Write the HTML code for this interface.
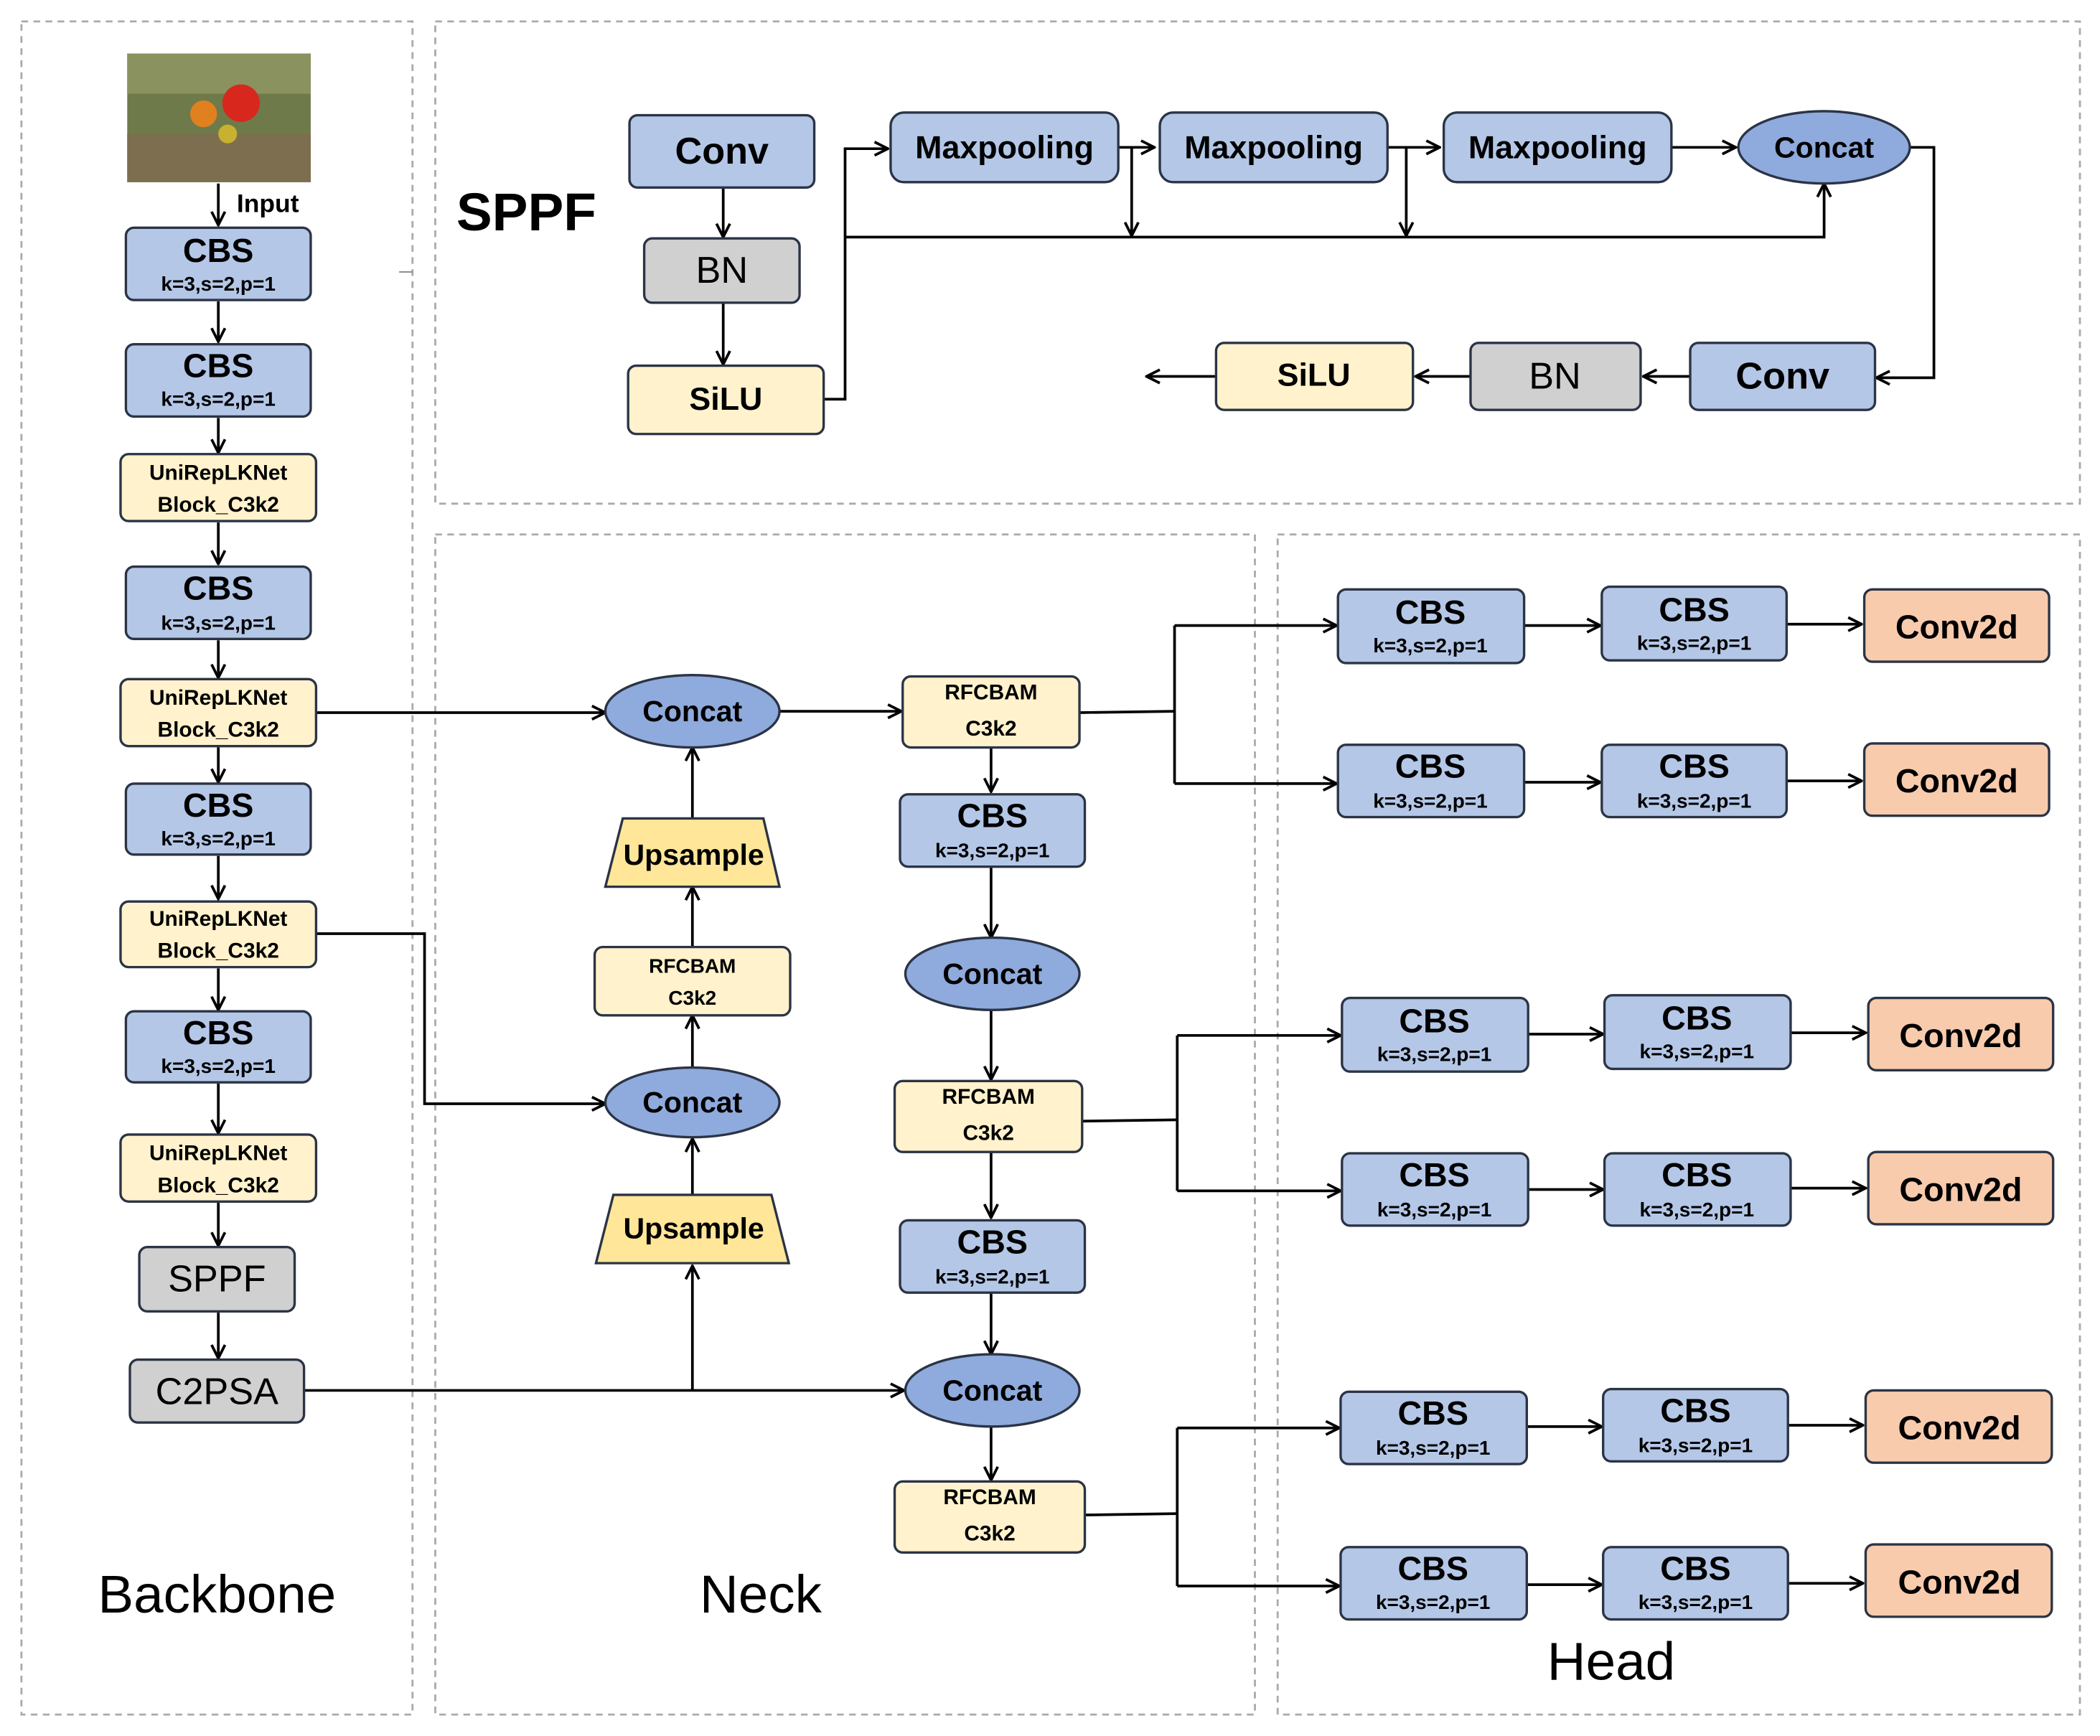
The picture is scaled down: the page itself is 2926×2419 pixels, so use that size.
<!DOCTYPE html>
<html><head><meta charset="utf-8"><style>
html,body{margin:0;padding:0;background:#fff;}
svg{display:block;}
text{font-family:"Liberation Sans",sans-serif;text-anchor:middle;dominant-baseline:central;}
.b{font-weight:bold;}
</style></head><body>
<svg width="2926" height="2419" viewBox="0 0 1568 1296" preserveAspectRatio="none" xmlns="http://www.w3.org/2000/svg">
<defs>
<marker id="a" viewBox="0 0 12 12" refX="11" refY="6" markerWidth="12" markerHeight="12" markerUnits="userSpaceOnUse" orient="auto">
<polyline points="1,1 11,6 1,11" fill="none" stroke="#000" stroke-width="2"/>
</marker>
</defs>
<rect width="1568" height="1296" fill="#fff"/>
<g fill="none" stroke="#aaa" stroke-width="1.5" stroke-dasharray="5,4">
<rect x="16" y="16" width="292" height="1264"/>
<rect x="325" y="16" width="1228" height="360"/>
<rect x="325" y="399" width="612" height="881"/>
<rect x="954" y="399" width="599" height="881"/>
</g>
<line x1="298" y1="203" x2="308" y2="203" stroke="#888" stroke-width="1"/>

<!-- image -->
<rect x="95" y="40" width="137" height="96" fill="#6f7a4a"/>
<rect x="95" y="40" width="137" height="30" fill="#8a9260"/>
<rect x="95" y="100" width="137" height="36" fill="#7d6e50"/>
<circle cx="180" cy="77" r="14" fill="#d8281e"/>
<circle cx="152" cy="85" r="10" fill="#e0801e"/>
<circle cx="170" cy="100" r="7" fill="#c8b030"/>

<g stroke="#000" stroke-width="2" fill="none" marker-end="url(#a)">
<line x1="163" y1="137" x2="163" y2="168"/>
<line x1="163" y1="225" x2="163" y2="255"/>
<line x1="163" y1="312" x2="163" y2="338"/>
<line x1="163" y1="390" x2="163" y2="421"/>
<line x1="163" y1="478" x2="163" y2="506"/>
<line x1="163" y1="558" x2="163" y2="584"/>
<line x1="163" y1="639" x2="163" y2="671"/>
<line x1="163" y1="723" x2="163" y2="754"/>
<line x1="163" y1="809" x2="163" y2="846"/>
<line x1="163" y1="898" x2="163" y2="930"/>
<line x1="163" y1="980" x2="163" y2="1014"/>
<!-- neck -->
<line x1="236" y1="532" x2="452" y2="532"/>
<line x1="517" y1="611" x2="517" y2="558"/>
<line x1="517" y1="707" x2="517" y2="662"/>
<line x1="517" y1="797" x2="517" y2="758"/>
<polyline points="236,697 317,697 317,824 452,824"/>
<line x1="517" y1="892" x2="517" y2="850"/>
<line x1="227" y1="1038" x2="675" y2="1038"/>
<line x1="517" y1="1038" x2="517" y2="945"/>
<line x1="582" y1="531" x2="673" y2="531"/>
<line x1="740" y1="558" x2="740" y2="591"/>
<line x1="740" y1="647" x2="740" y2="700"/>
<line x1="740" y1="754" x2="740" y2="806"/>
<line x1="740" y1="860" x2="740" y2="909"/>
<line x1="740" y1="965" x2="740" y2="1011"/>
<line x1="740" y1="1065" x2="740" y2="1105"/>
<!-- head -->
<polyline points="877,467 998,467"/>
<polyline points="877,585 998,585"/>
<line x1="1138" y1="467" x2="1195" y2="467"/>
<line x1="1334" y1="466" x2="1390" y2="466"/>
<line x1="1138" y1="584" x2="1195" y2="584"/>
<line x1="1334" y1="583" x2="1390" y2="583"/>
<polyline points="879,773 1001,773"/>
<polyline points="879,889 1001,889"/>
<line x1="1141" y1="772" x2="1197" y2="772"/>
<line x1="1337" y1="771" x2="1393" y2="771"/>
<line x1="1141" y1="888" x2="1197" y2="888"/>
<line x1="1337" y1="887" x2="1393" y2="887"/>
<polyline points="879,1066 1000,1066"/>
<polyline points="879,1184 1000,1184"/>
<line x1="1140" y1="1065" x2="1196" y2="1065"/>
<line x1="1335" y1="1064" x2="1391" y2="1064"/>
<line x1="1140" y1="1183" x2="1196" y2="1183"/>
<line x1="1335" y1="1182" x2="1391" y2="1182"/>
<!-- sppf -->
<line x1="540" y1="140" x2="540" y2="177"/>
<line x1="540" y1="226" x2="540" y2="272"/>
<polyline points="615,298 631,298 631,111 663,111"/>
<polyline points="631,177 1362,177 1362,137"/>
<line x1="835" y1="110" x2="862" y2="110"/>
<line x1="845" y1="110" x2="845" y2="176"/>
<line x1="1036" y1="110" x2="1075" y2="110"/>
<line x1="1050" y1="110" x2="1050" y2="176"/>
<line x1="1248" y1="110" x2="1296" y2="110"/>
<polyline points="1426,110 1444,110 1444,282 1401,282"/>
<line x1="1262" y1="281" x2="1227" y2="281"/>
<line x1="1098" y1="281" x2="1057" y2="281"/>
<line x1="908" y1="281" x2="856" y2="281"/>
</g>
<g stroke="#000" stroke-width="2" fill="none">
<line x1="806" y1="532" x2="877" y2="531"/>
<line x1="877" y1="467" x2="877" y2="585"/>
<line x1="808" y1="837" x2="879" y2="836"/>
<line x1="879" y1="773" x2="879" y2="889"/>
<line x1="810" y1="1131" x2="879" y2="1130"/>
<line x1="879" y1="1066" x2="879" y2="1184"/>
</g>

<text x="200" y="152" class="b" font-size="19">Input</text>

<g stroke="#2b3445" stroke-width="1.8">
<!-- backbone CBS -->
<g fill="#b4c7e7">
<rect x="94" y="170" width="138" height="54" rx="6"/>
<rect x="94" y="257" width="138" height="54" rx="6"/>
<rect x="94" y="423" width="138" height="54" rx="6"/>
<rect x="94" y="585" width="138" height="53" rx="6"/>
<rect x="94" y="755" width="138" height="53" rx="6"/>
<rect x="672" y="593" width="138" height="54" rx="6"/>
<rect x="672" y="911" width="138" height="54" rx="6"/>
<rect x="999" y="440" width="139" height="55" rx="6"/>
<rect x="1196" y="438" width="138" height="55" rx="6"/>
<rect x="999" y="556" width="139" height="54" rx="6"/>
<rect x="1196" y="556" width="138" height="54" rx="6"/>
<rect x="1002" y="745" width="139" height="55" rx="6"/>
<rect x="1198" y="743" width="139" height="55" rx="6"/>
<rect x="1002" y="861" width="139" height="54" rx="6"/>
<rect x="1198" y="861" width="139" height="54" rx="6"/>
<rect x="1001" y="1039" width="139" height="54" rx="6"/>
<rect x="1197" y="1037" width="138" height="54" rx="6"/>
<rect x="1001" y="1155" width="139" height="54" rx="6"/>
<rect x="1197" y="1155" width="138" height="54" rx="6"/>
<rect x="470" y="86" width="138" height="54" rx="6"/>
<rect x="665" y="84" width="170" height="52" rx="10"/>
<rect x="866" y="84" width="170" height="52" rx="10"/>
<rect x="1078" y="84" width="170" height="52" rx="10"/>
<rect x="1262" y="256" width="138" height="50" rx="6"/>
</g>
<g fill="#fff2cc">
<rect x="90" y="339" width="146" height="50" rx="6"/>
<rect x="90" y="507" width="146" height="50" rx="6"/>
<rect x="90" y="673" width="146" height="49" rx="6"/>
<rect x="90" y="847" width="146" height="50" rx="6"/>
<rect x="444" y="707" width="146" height="51" rx="6"/>
<rect x="674" y="505" width="132" height="53" rx="6"/>
<rect x="668" y="807" width="140" height="53" rx="6"/>
<rect x="668" y="1106" width="142" height="53" rx="6"/>
<rect x="469" y="273" width="146" height="51" rx="6"/>
<rect x="908" y="256" width="147" height="50" rx="6"/>
</g>
<g fill="#d0d0d0">
<rect x="104" y="931" width="116" height="48" rx="6"/>
<rect x="97" y="1015" width="130" height="47" rx="6"/>
<rect x="481" y="178" width="116" height="48" rx="6"/>
<rect x="1098" y="256" width="127" height="50" rx="6"/>
</g>
<g fill="#f8cbad">
<rect x="1392" y="440" width="138" height="54" rx="6"/>
<rect x="1392" y="555" width="138" height="54" rx="6"/>
<rect x="1395" y="745" width="138" height="54" rx="6"/>
<rect x="1395" y="860" width="138" height="54" rx="6"/>
<rect x="1393" y="1038" width="139" height="54" rx="6"/>
<rect x="1393" y="1153" width="139" height="54" rx="6"/>
</g>
<g fill="#8faadc">
<ellipse cx="517" cy="531" rx="65" ry="27"/>
<ellipse cx="517" cy="823" rx="65" ry="26"/>
<ellipse cx="741" cy="727" rx="65" ry="27"/>
<ellipse cx="741" cy="1038" rx="65" ry="27"/>
<ellipse cx="1362" cy="110" rx="64" ry="27"/>
</g>
<g fill="#ffe699">
<polygon points="465,611 570,611 582,662 452,662"/>
<polygon points="458,892 576,892 589,943 445,943"/>
</g>
</g>

<g class="b" fill="#000">
<g font-size="25">
<text x="163" y="187">CBS</text><text x="163" y="273">CBS</text><text x="163" y="439">CBS</text>
<text x="163" y="601">CBS</text><text x="163" y="771">CBS</text>
<text x="741" y="609">CBS</text><text x="741" y="927">CBS</text>
<text x="1068" y="457">CBS</text><text x="1265" y="455">CBS</text>
<text x="1068" y="572">CBS</text><text x="1265" y="572">CBS</text>
<text x="1071" y="762">CBS</text><text x="1267" y="760">CBS</text>
<text x="1071" y="877">CBS</text><text x="1267" y="877">CBS</text>
<text x="1070" y="1055">CBS</text><text x="1266" y="1053">CBS</text>
<text x="1070" y="1171">CBS</text><text x="1266" y="1171">CBS</text>
</g>
<g font-size="15">
<text x="163" y="212">k=3,s=2,p=1</text><text x="163" y="298">k=3,s=2,p=1</text><text x="163" y="465">k=3,s=2,p=1</text>
<text x="163" y="626">k=3,s=2,p=1</text><text x="163" y="796">k=3,s=2,p=1</text>
<text x="741" y="635">k=3,s=2,p=1</text><text x="741" y="953">k=3,s=2,p=1</text>
<text x="1068" y="482">k=3,s=2,p=1</text><text x="1265" y="480">k=3,s=2,p=1</text>
<text x="1068" y="598">k=3,s=2,p=1</text><text x="1265" y="598">k=3,s=2,p=1</text>
<text x="1071" y="787">k=3,s=2,p=1</text><text x="1267" y="785">k=3,s=2,p=1</text>
<text x="1071" y="903">k=3,s=2,p=1</text><text x="1267" y="903">k=3,s=2,p=1</text>
<text x="1070" y="1081">k=3,s=2,p=1</text><text x="1266" y="1079">k=3,s=2,p=1</text>
<text x="1070" y="1196">k=3,s=2,p=1</text><text x="1266" y="1196">k=3,s=2,p=1</text>
</g>
<g font-size="16">
<text x="163" y="353">UniRepLKNet</text><text x="163" y="377">Block_C3k2</text>
<text x="163" y="521">UniRepLKNet</text><text x="163" y="545">Block_C3k2</text>
<text x="163" y="686">UniRepLKNet</text><text x="163" y="710">Block_C3k2</text>
<text x="163" y="861">UniRepLKNet</text><text x="163" y="885">Block_C3k2</text>
<text x="740" y="517">RFCBAM</text><text x="740" y="544">C3k2</text>
<text x="738" y="819">RFCBAM</text><text x="738" y="846">C3k2</text>
<text x="739" y="1118">RFCBAM</text><text x="739" y="1145">C3k2</text>
</g>
<g font-size="15">
<text x="517" y="721">RFCBAM</text><text x="517" y="745">C3k2</text>
</g>
<g font-size="22">
<text x="517" y="531">Concat</text><text x="517" y="823">Concat</text>
<text x="741" y="727">Concat</text><text x="741" y="1038">Concat</text>
<text x="1362" y="110">Concat</text>
<text x="518" y="638">Upsample</text><text x="518" y="917">Upsample</text>
</g>
<g font-size="25">
<text x="1461" y="468">Conv2d</text><text x="1461" y="583">Conv2d</text>
<text x="1464" y="773">Conv2d</text><text x="1464" y="888">Conv2d</text>
<text x="1463" y="1066">Conv2d</text><text x="1463" y="1181">Conv2d</text>
</g>
<g font-size="24">
<text x="750" y="110">Maxpooling</text><text x="951" y="110">Maxpooling</text><text x="1163" y="110">Maxpooling</text>
<text x="542" y="298">SiLU</text><text x="981" y="280">SiLU</text>
</g>
<text x="539" y="113" font-size="28">Conv</text>
<text x="1331" y="281" font-size="28">Conv</text>
<text x="393" y="158" font-size="40">SPPF</text>
</g>
<g fill="#000" font-size="28">
<text x="162" y="955">SPPF</text>
<text x="162" y="1039">C2PSA</text>
<text x="539" y="202">BN</text>
<text x="1161" y="281">BN</text>
</g>
<g fill="#000" font-size="40">
<text x="162" y="1190">Backbone</text>
<text x="568" y="1190">Neck</text>
<text x="1203" y="1240">Head</text>
</g>
</svg>
</body></html>
